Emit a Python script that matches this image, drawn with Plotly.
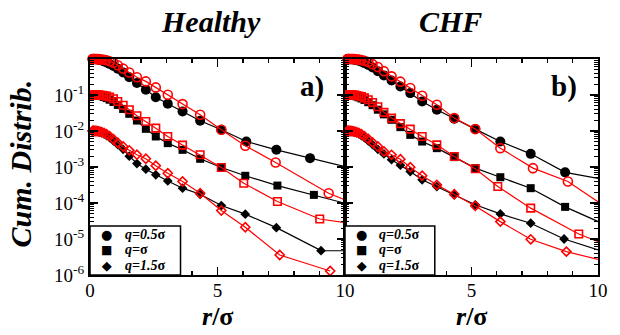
import plotly.graph_objects as go

# ---------------- data ----------------
R_BASE = [0.1, 0.12, 0.14, 0.17, 0.2, 0.24, 0.28, 0.33, 0.39, 0.46, 0.55, 0.65,
          0.77, 0.92, 1.09, 1.3, 1.54, 1.84, 2.19, 2.58, 3.05, 3.63, 4.32, 5.15]

# Healthy panel
H_Q05_FILL = [1.0, 1.0, 1.0, 1.0, 1.0, 0.99, 0.98, 0.965, 0.94, 0.91, 0.86, 0.80,
              0.73, 0.64, 0.54, 0.42, 0.31, 0.215, 0.14, 0.087, 0.057, 0.035, 0.0192, 0.0108]
H_Q05_FILL_TR = [6.13, 7.31, 8.63, 10.2]
H_Q05_FILL_T = [5.1e-3, 3.0e-3, 1.76e-3, 9.5e-4]

H_Q05_OPEN = [1.0, 1.0, 1.0, 1.0, 1.0, 1.0, 0.995, 0.99, 0.98, 0.97, 0.95, 0.92,
              0.87, 0.79, 0.67, 0.54, 0.42, 0.31, 0.239, 0.1625, 0.1016, 0.0559, 0.0282, 0.0108]
H_Q05_OPEN_TR = [6.09, 7.28, 9.36, 11.0]
H_Q05_OPEN_T = [3.9e-3, 1.33e-3, 1.87e-4, 6.3e-5]

H_Q1_FILL = [0.1, 0.1, 0.1, 0.1, 0.1, 0.1, 0.099, 0.098, 0.096, 0.093, 0.088, 0.082,
             0.074, 0.064, 0.053, 0.041, 0.030, 0.0195, 0.0115, 7.05e-3, 4.6e-3, 3.0e-3, 1.69e-3, 9.7e-4]
H_Q1_FILL_TR = [6.09, 7.35, 8.78, 10.4]
H_Q1_FILL_T = [5.7e-4, 3.05e-4, 1.68e-4, 8.3e-5]

H_Q1_OPEN = [0.1, 0.1, 0.1, 0.1, 0.1, 0.1, 0.1, 0.1, 0.099, 0.098, 0.096, 0.093,
             0.088, 0.079, 0.066, 0.052, 0.039, 0.0265, 0.0184, 0.012, 7.05e-3, 4.05e-3, 2.18e-3, 9.7e-4]
H_Q1_OPEN_TR = [6.03, 7.35, 9.01, 10.6]
H_Q1_OPEN_T = [3.55e-4, 1.1e-4, 3.6e-5, 2.5e-5]

H_Q15_FILL = [0.01, 0.01, 0.01, 0.01, 0.01, 0.0099, 0.0098, 0.0096, 0.0093, 0.0089, 0.0083, 0.0075,
              0.0066, 0.0053, 0.0042, 0.0031, 0.0020, 0.00125, 8.7e-4, 6.05e-4, 4.1e-4, 2.58e-4, 1.75e-4, 8.5e-5]
H_Q15_FILL_TR = [6.09, 7.31, 9.06, 10.6]
H_Q15_FILL_T = [4.9e-5, 2.07e-5, 4.75e-6, 4.7e-6]

H_Q15_OPEN = [0.01, 0.01, 0.01, 0.01, 0.01, 0.01, 0.0099, 0.0098, 0.0096, 0.0093, 0.0088, 0.0081,
              0.0072, 0.0059, 0.0047, 0.0037, 0.0029, 0.0022, 1.69e-3, 1.08e-3, 6.7e-4, 3.95e-4, 1.87e-4, 6.2e-5]
H_Q15_OPEN_TR = [6.09, 7.44, 9.42]
H_Q15_OPEN_T = [2.12e-5, 3.6e-6, 1.29e-6]

# CHF panel
C_Q05_FILL = [1.0, 1.0, 1.0, 1.0, 1.0, 1.0, 0.99, 0.98, 0.96, 0.93, 0.89, 0.84,
              0.77, 0.68, 0.58, 0.46, 0.35, 0.254, 0.173, 0.113, 0.0663, 0.0389, 0.0218, 0.0113]
C_Q05_FILL_TR = [6.14, 7.34, 8.7, 10.4]
C_Q05_FILL_T = [5.1e-3, 2.32e-3, 7.1e-4, 4.3e-4]

C_Q05_OPEN = [1.0, 1.0, 1.0, 1.0, 1.0, 1.0, 1.0, 0.995, 0.99, 0.98, 0.96, 0.93,
              0.89, 0.82, 0.72, 0.6, 0.46, 0.33, 0.235, 0.156, 0.0953, 0.0535, 0.0228, 0.0113]
C_Q05_OPEN_TR = [6.14, 7.43, 8.81, 10.4]
C_Q05_OPEN_T = [3.34e-3, 9.3e-4, 3.95e-4, 7e-5]

C_Q1_FILL = [0.1, 0.1, 0.1, 0.1, 0.1, 0.1, 0.099, 0.097, 0.095, 0.091, 0.086, 0.080,
             0.073, 0.063, 0.052, 0.039, 0.029, 0.0205, 0.0128, 7.8e-3, 5.1e-3, 3.34e-3, 1.88e-3, 9.3e-4]
C_Q1_FILL_TR = [6.14, 7.34, 8.7, 10.4]
C_Q1_FILL_T = [5.2e-4, 2.58e-4, 7.8e-5, 2.3e-5]

C_Q1_OPEN = [0.1, 0.1, 0.1, 0.1, 0.1, 0.1, 0.1, 0.1, 0.099, 0.097, 0.094, 0.09,
             0.083, 0.074, 0.062, 0.047, 0.033, 0.0228, 0.016, 0.0113, 7.05e-3, 4.13e-3, 1.96e-3, 8.9e-4]
C_Q1_OPEN_TR = [6.04, 7.34, 9.24, 10.6]
C_Q1_OPEN_T = [2.86e-4, 7.2e-5, 1.38e-5, 5.8e-6]

C_Q15_FILL = [0.01, 0.01, 0.01, 0.01, 0.01, 0.0099, 0.0098, 0.0096, 0.0093, 0.0089, 0.0083, 0.0075,
              0.0065, 0.0053, 0.0042, 0.0031, 0.0023, 0.0016, 1.12e-3, 7.5e-4, 4.4e-4, 2.86e-4, 1.68e-4, 8.9e-5]
C_Q15_FILL_TR = [6.14, 7.34, 8.66, 10.3]
C_Q15_FILL_T = [4.97e-5, 2.74e-5, 1.0e-5, 4.3e-6]

C_Q15_OPEN = [0.01, 0.01, 0.01, 0.01, 0.01, 0.01, 0.0099, 0.0098, 0.0096, 0.0093, 0.0088, 0.0081,
              0.0072, 0.006, 0.0048, 0.0037, 0.0027, 0.00218, 1.65e-3, 9.9e-4, 5.7e-4, 3.2e-4, 1.75e-4, 8.3e-5]
C_Q15_OPEN_TR = [6.14, 7.34, 8.75, 10.4]
C_Q15_OPEN_T = [3.04e-5, 9.8e-6, 4.46e-6, 2.3e-6]

PANEL_TITLES = ["Healthy", "CHF"]
PANEL_TAGS = ["a)", "b)"]
LEGEND_LABELS = ["<i>q=0.5</i>σ", "<i>q=</i>σ", "<i>q=1.5</i>σ"]
LEGEND_GLYPHS = ["●", "■", "◆"]
X_TICKS = [0, 5, 10]
Y_TICKS = [1e-6, 1e-5, 1e-4, 1e-3, 1e-2, 1e-1]
Y_TICK_TEXT = ["10<sup>-6</sup>", "10<sup>-5</sup>", "10<sup>-4</sup>",
               "10<sup>-3</sup>", "10<sup>-2</sup>", "10<sup>-1</sup>"]

# ---------------- figure ----------------
SERIF = "Liberation Serif"
RED = "#ff0000"

fig = go.Figure()

panels = [
    ("x", "y", [
        (H_Q05_FILL, H_Q05_FILL_TR, H_Q05_FILL_T, "circle", "black"),
        (H_Q1_FILL, H_Q1_FILL_TR, H_Q1_FILL_T, "square", "black"),
        (H_Q15_FILL, H_Q15_FILL_TR, H_Q15_FILL_T, "diamond", "black"),
        (H_Q05_OPEN, H_Q05_OPEN_TR, H_Q05_OPEN_T, "circle-open", RED),
        (H_Q1_OPEN, H_Q1_OPEN_TR, H_Q1_OPEN_T, "square-open", RED),
        (H_Q15_OPEN, H_Q15_OPEN_TR, H_Q15_OPEN_T, "diamond-open", RED),
    ]),
    ("x2", "y2", [
        (C_Q05_FILL, C_Q05_FILL_TR, C_Q05_FILL_T, "circle", "black"),
        (C_Q1_FILL, C_Q1_FILL_TR, C_Q1_FILL_T, "square", "black"),
        (C_Q15_FILL, C_Q15_FILL_TR, C_Q15_FILL_T, "diamond", "black"),
        (C_Q05_OPEN, C_Q05_OPEN_TR, C_Q05_OPEN_T, "circle-open", RED),
        (C_Q1_OPEN, C_Q1_OPEN_TR, C_Q1_OPEN_T, "square-open", RED),
        (C_Q15_OPEN, C_Q15_OPEN_TR, C_Q15_OPEN_T, "diamond-open", RED),
    ]),
]

SIZES = {"circle": 10, "square": 8, "diamond": 7.5,
         "circle-open": 9, "square-open": 7.5, "diamond-open": 7}

for xa, ya, series in panels:
    for base_vals, tail_r, tail_vals, sym, col in series:
        fig.add_trace(go.Scatter(
            x=R_BASE + tail_r, y=base_vals + tail_vals,
            xaxis=xa, yaxis=ya, mode="lines+markers",
            line=dict(color=col, width=1.2),
            marker=dict(symbol=sym, size=SIZES[sym], color=col,
                        line=dict(color=col, width=1.6 if "open" in sym else 0)),
            cliponaxis=False, showlegend=False, hoverinfo="skip",
        ))

split = 260 / 518
minor_y = [m * 10 ** e for e in range(-6, 0) for m in range(2, 10)]

axis_common = dict(showline=True, linewidth=2, linecolor="black", mirror="allticks",
                   ticks="inside", ticklen=8, tickwidth=1.5, tickcolor="black",
                   showgrid=False, zeroline=False,
                   tickfont=dict(family=SERIF, size=19, color="black"))

xminor = dict(dtick=1, tick0=0, ticks="inside", ticklen=4, tickwidth=1.2, tickcolor="black")
yminor = dict(tickmode="array", tickvals=minor_y, ticks="inside", ticklen=4,
              tickwidth=1, tickcolor="black")

fig.update_layout(
    width=620, height=335,
    margin=dict(l=90, r=12, t=59, b=60),
    paper_bgcolor="white", plot_bgcolor="white",
    font=dict(family=SERIF, color="black"),
    xaxis=dict(domain=[0, split], range=[0, 10], anchor="y",
               tickmode="array", tickvals=X_TICKS, ticktext=["0", "5", "10"],
               ticklabelstandoff=-3, minor=xminor, **axis_common),
    xaxis2=dict(domain=[split, 1], range=[0, 10], anchor="y2",
                tickmode="array", tickvals=[5, 10], ticktext=["5", "10"],
                ticklabelstandoff=-3, minor=xminor, **axis_common),
    yaxis=dict(type="log", range=[-6, 0], anchor="x",
               tickmode="array", tickvals=Y_TICKS, ticktext=Y_TICK_TEXT,
               minor=yminor, **axis_common),
    yaxis2=dict(type="log", range=[-6, 0], anchor="x2", matches="y",
                tickmode="array", tickvals=Y_TICKS, ticktext=Y_TICK_TEXT, showticklabels=False,
                minor=yminor, **axis_common),
)

annotations = []
shapes = []
# titles, panel tags, x-axis titles
for i, (xc_title, xc_axis, xc_tag) in enumerate([(0.2375, 0.251, 0.4363),
                                                 (0.7104, 0.751, 0.934)]):
    annotations.append(dict(text="<b><i>%s</i></b>" % PANEL_TITLES[i], xref="paper", yref="paper",
                            x=xc_title, y=1.172, showarrow=False, xanchor="center", yanchor="middle",
                            font=dict(family=SERIF, size=30, color="black")))
    annotations.append(dict(text="<b>%s</b>" % PANEL_TAGS[i], xref="paper", yref="paper",
                            x=xc_tag, y=0.875, showarrow=False, xanchor="center", yanchor="middle",
                            font=dict(family=SERIF, size=29, color="black")))
    annotations.append(dict(text="<b><i>r</i>/σ</b>", xref="paper", yref="paper",
                            x=xc_axis, y=-0.2685, showarrow=False, xanchor="center", yanchor="bottom",
                            font=dict(family=SERIF, size=26, color="black")))

annotations.append(dict(text="<b><i>Cum. Distrib.</i></b>", xref="paper", yref="paper",
                        x=-0.137, y=0.5185, textangle=-90, showarrow=False,
                        xanchor="center", yanchor="middle",
                        font=dict(family=SERIF, size=30, color="black")))

# legends (one per panel): one multi-line block per column; base font sets the line spacing
glyph_block = "<br>".join('<span style="font-size:%dpx">%s</span>' % (13 if g != "■" else 12, g)
                          for g in LEGEND_GLYPHS)
label_block = "<br>".join('<span style="font-size:14px"><b>%s</b></span>' % t for t in LEGEND_LABELS)
for xd, yd in [("x domain", "y domain"), ("x2 domain", "y2 domain")]:
    shapes.append(dict(type="rect", xref=xd, yref=yd, x0=0, x1=0.355, y0=0, y1=0.227,
                       fillcolor="white", line=dict(color="black", width=1.5), layer="above"))
    annotations.append(dict(text=glyph_block, xref=xd, yref=yd, x=0.064, y=0.1157,
                            showarrow=False, xanchor="center", yanchor="middle", align="center",
                            font=dict(family="DejaVu Sans", size=11.9, color="black")))
    annotations.append(dict(text=label_block, xref=xd, yref=yd, x=0.128, y=0.1157,
                            showarrow=False, xanchor="left", yanchor="middle", align="left",
                            font=dict(family=SERIF, size=11.9, color="black")))

fig.update_layout(annotations=annotations, shapes=shapes)

fig.write_html(
    "out.html",
    config={"displayModeBar": False, "staticPlot": True},
    post_script="document.body.style.margin='0';document.body.style.overflow='hidden';",
)
